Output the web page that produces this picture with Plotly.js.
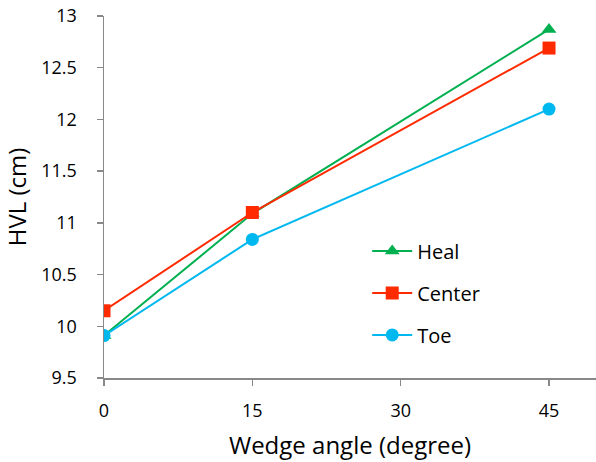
<!DOCTYPE html>
<html><head><meta charset="utf-8">
<script src="https://cdn.plot.ly/plotly-3.0.1.min.js"></script>
<style>html,body{margin:0;padding:0;background:#fff}#c{width:596px;height:462px}</style>
</head><body><div id="c"></div>
<script>
const angles = [0, 15, 45];
const seriesNames = ["Heal", "Center", "Toe"];
const heal = [9.91, 11.09, 12.87];
const center = [10.15, 11.1, 12.69];
const toe = [9.91, 10.84, 12.1];
const xTicks = [0, 15, 30, 45];
const yTicks = [9.5, 10, 10.5, 11, 11.5, 12, 12.5, 13];

const colors = ["#00B050", "#FF2A00", "#00B8F0"];
const symbols = ["triangle-up", "square", "circle"];
const vals = [heal, center, toe];

const traces = vals.map((v, i) => ({
  x: angles, y: v, name: seriesNames[i], type: "scatter", mode: "lines+markers",
  legendgroup: "g" + i,
  line: {color: colors[i], width: 2},
  marker: {symbol: symbols[i], size: 13, color: colors[i]}
}));

const font = "'Open Sans', sans-serif";
const layout = {
  width: 596, height: 462,
  margin: {l: 104, r: 0, t: 16, b: 84},
  paper_bgcolor: "#fff", plot_bgcolor: "#fff",
  font: {family: font, color: "#000"},
  showlegend: true,
  legend: {x: 0.535, y: 0.405, xanchor: "left", yanchor: "top", font: {size: 20, color: "#000"},
    traceorder: "grouped", tracegroupgap: 13, bgcolor: "rgba(0,0,0,0)", itemwidth: 40},
  xaxis: {range: [0, 49.75], tickvals: xTicks, ticktext: xTicks.map(String),
    showgrid: false, zeroline: false, showline: true, linecolor: "#898989", linewidth: 1.5,
    ticks: "outside", ticklen: 6, tickcolor: "#898989", tickwidth: 1.5, ticklabelstandoff: 10,
    tickfont: {size: 18, family: font}, title: {text: "Wedge angle (degree)", font: {size: 24, family: font}, standoff: 16}},
  yaxis: {range: [9.5, 13], tickvals: yTicks, ticktext: yTicks.map(String),
    showgrid: false, zeroline: false, showline: true, linecolor: "#898989", linewidth: 1.5,
    ticks: "outside", ticklen: 6, tickcolor: "#898989", tickwidth: 1.5, ticklabelstandoff: 16,
    tickfont: {size: 18, family: font}, title: {text: "HVL (cm)", font: {size: 24, family: font}, standoff: 8}}
};
Plotly.newPlot("c", traces, layout, {displayModeBar: false, staticPlot: true});
</script></body></html>
